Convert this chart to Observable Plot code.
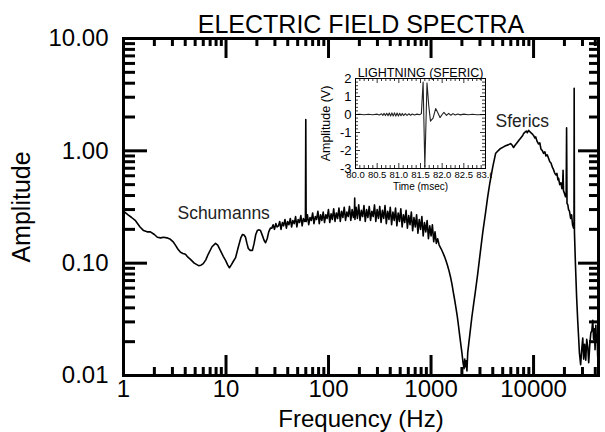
<!DOCTYPE html>
<html><head><meta charset="utf-8">
<script src="https://cdn.jsdelivr.net/npm/d3@7"></script>
<script src="https://cdn.jsdelivr.net/npm/@observablehq/plot@0.6"></script>
<style>
html,body{margin:0;padding:0;background:#fff;}
#wrap{position:relative;width:605px;height:432px;overflow:hidden;background:#fff;}
#inset{position:absolute;left:300px;top:58px;}
</style></head><body><div id="wrap"><div id="main"></div><div id="inset"></div></div>
<script>
const FONT = "'Liberation Sans', Arial, Helvetica, sans-serif";

// ---- main spectrum data: [frequency Hz, amplitude] ----
const schumannBand = [
  [1,0.29],[1.1,0.27],[1.2,0.255],[1.31,0.239],[1.45,0.21],[1.57,0.195],[1.7,0.19],[1.83,0.19],[2.0,0.18],[2.14,0.17],
  [2.3,0.168],[2.46,0.17],[2.65,0.168],[2.87,0.163],[3.05,0.155],[3.22,0.144],[3.4,0.133],[3.6,0.125],[3.8,0.122],[4.02,0.12],
  [4.25,0.113],[4.5,0.108],[4.9,0.1],[5.4,0.095],[5.7,0.096],[6.0,0.099],[6.35,0.107],[6.7,0.12],[7.3,0.14],[7.9,0.15],
  [8.3,0.145],[8.8,0.13],[9.4,0.115],[9.9,0.106],[10.4,0.096],[10.8,0.091],[11.3,0.097],[11.8,0.104],[12.4,0.112],[13.2,0.14],
  [14.0,0.17],[14.5,0.18],[15.0,0.178],[15.5,0.17],[16.0,0.15],[16.5,0.135],[17.2,0.13],[18.1,0.13],[18.8,0.15],[19.5,0.18],
  [20.2,0.195],[21.0,0.198],[21.7,0.195],[22.7,0.175],[23.5,0.16],[24.3,0.152],[25.2,0.165],[26.1,0.19],[27.1,0.205]
];
const humBand = [
  [28,0.205],[28.8,0.22],[29.7,0.2],[30.6,0.225],[31.5,0.21],[32.5,0.215],[33.4,0.235],[34.4,0.2],[35.5,0.23],[36.5,0.215],
  [37.6,0.245],[38.8,0.205],[39.9,0.235],[41.1,0.22],[42.4,0.25],[43.6,0.21],[44.9,0.24],[46.3,0.225],[47.7,0.26],[49.1,0.21],
  [50.6,0.245],[52.1,0.23],[53.7,0.265],[55.3,0.215],[56.9,0.25],[58.6,0.235],[59.5,0.24],[60,1.9],[60.5,0.235],[62.2,0.27],
  [64.1,0.22],[66,0.255],[68,0.24],[70,0.28],[72.1,0.225],[74.3,0.26],[76.5,0.245],[78.8,0.29],[81.2,0.225],[83.6,0.27],
  [86.1,0.24],[88.7,0.285],[91.4,0.23],[94.1,0.27],[96.9,0.25],[99.8,0.3],[102.8,0.23],[105.9,0.275],[109,0.245],[112.3,0.305],
  [115.7,0.235],[119.2,0.28],[122.7,0.25],[126.4,0.31],[130.2,0.235],[134.1,0.29],[138.1,0.255],[142.3,0.315],[146.5,0.24],[150.9,0.285],
  [155.5,0.26],[160.1,0.32],[164.9,0.24],[169.9,0.3],[175,0.255],[179,0.3],[180,0.38],[181,0.245],[185.7,0.315],[191.2,0.25],
  [197,0.33],[202.9,0.24],[209,0.295],[215.2,0.26],[221.7,0.325],[228.3,0.235],[235.2,0.3],[242.2,0.255],[249.5,0.32],[257,0.24],
  [264.7,0.29],[272.6,0.26],[280.8,0.33],[289.2,0.235],[297.9,0.3],[306.8,0.25],[316,0.32],[325.5,0.23],[335.3,0.295],[345.3,0.25],
  [355.7,0.325],[366.3,0.225],[377.3,0.29],[388.6,0.245],[400.3,0.315],[412.3,0.22],[424.7,0.285],[437.4,0.24],[450.5,0.31],[464,0.215],
  [478,0.28],[492.3,0.235],[507.1,0.305],[522.3,0.21],[538,0.27],[554.1,0.23],[570.7,0.295],[587.8,0.205],[605.5,0.265],[623.6,0.22],
  [642.3,0.285],[661.6,0.195],[681.4,0.255],[701.9,0.21],[722.9,0.27],[744.6,0.185],[767,0.245],[790,0.2],[813.7,0.26],[838.1,0.175],
  [863.2,0.23],[889.1,0.19],[915.8,0.24],[943.3,0.165],[971.6,0.215],[1000.7,0.175],[1030.7,0.22],[1061.6,0.155],[1093.5,0.19],[1126.3,0.15],
  [1160,0.165]
];
const dipBand = [
  [1200,0.145],[1250,0.135],[1300,0.125],[1350,0.115],[1400,0.105],[1450,0.095],[1500,0.085],[1550,0.075],[1600,0.065],[1650,0.055],
  [1700,0.047],[1750,0.04],[1800,0.034],[1850,0.028],[1900,0.023],[1950,0.019],[2000,0.016],[2050,0.013],[2100,0.0115],[2130,0.014],
  [2160,0.012],[2200,0.0135],[2240,0.011],[2280,0.016],[2330,0.019],[2400,0.024],[2500,0.033],[2600,0.043],[2700,0.055],[2850,0.08]
];
const sfericBand = [
  [3040,0.13],[3200,0.19],[3400,0.28],[3560,0.384],[3750,0.52],[4000,0.72],[4260,0.946],[4500,1.0],[4770,1.05],[5050,1.08],
  [5330,1.11],[5650,1.13],[5970,1.16],[6200,1.12],[6380,1.07],[6600,1.12],[6900,1.18],[7140,1.23],[7500,1.3],[7800,1.36],
  [7980,1.42],[8200,1.46],[8500,1.5],[8700,1.45],[8940,1.52],[9200,1.48],[9500,1.44],[9800,1.4],[10000,1.37],[10300,1.3],
  [10500,1.33],[10800,1.22],[11200,1.15],[11500,1.18],[11800,1.04],[12200,1.0],[12530,0.95],[12900,0.98],[13200,0.9],[13600,0.92],
  [14000,0.86],[14400,0.8],[14800,0.78],[15200,0.72],[15670,0.68],[16000,0.64],[16500,0.61],[16900,0.63],[17300,0.55],[17540,0.57],
  [18000,0.5],[18500,0.52],[18900,0.46],[19200,0.47],[19400,0.67],[19600,0.44],[20000,0.42],[20500,0.39],[20800,0.4],[21000,1.6],
  [21200,0.34],[21600,0.33],[21950,0.3],[22400,0.29],[23000,0.25],[23500,0.27],[24000,0.22],[24550,0.205],[24800,0.22],[24900,3.6],
  [25050,0.19],[25600,0.1],[26300,0.05],[27000,0.03],[27500,0.022],[28000,0.016],[28800,0.0125]
];
const tailBand = [
  [29500,0.017],[30200,0.0216],[30800,0.014],[31500,0.019],[32300,0.0137],[33000,0.021],[33800,0.018],[34500,0.013],[35400,0.019],[36200,0.024],
  [37000,0.025],[37800,0.031],[38500,0.021],[39200,0.026],[39800,0.017],[40500,0.028],[41000,0.02],[41600,0.023],[42200,0.015],[43000,0.012]
];
const spectrum = [...schumannBand, ...humBand, ...dipBand, ...sfericBand, ...tailBand].map(([f, a]) => ({f, a}));

const annotations = [
  {label: "Schumanns", f: 3.36, a: 0.28},
  {label: "Sferics", f: 4260, a: 1.82}
];

// ---- tick values ----
const xMajor = [1, 10, 100, 1000, 10000];
const yMajor = [0.01, 0.1, 1, 10];
const xMinor = [2,3,4,5,6,7,8,9,20,30,40,50,60,70,80,90,200,300,400,500,600,700,800,900,2000,3000,4000,5000,6000,7000,8000,9000,20000,30000,40000];
const yMinor = [0.02,0.03,0.04,0.05,0.06,0.07,0.08,0.09,0.2,0.3,0.4,0.5,0.6,0.7,0.8,0.9,2,3,4,5,6,7,8,9];

// ---- inset sferic waveform: [time msec, volts] ----
const sfericTime = [80.0,80.1,80.2,80.3,80.4,80.5,80.55,80.6,80.63,80.66,80.69,80.72,80.75,80.78,80.81,80.84,80.87,80.9,80.93,80.96,80.99,81.02,81.05,81.08,81.11,81.15,81.19,81.23,81.27,81.31,81.36,81.42,81.48,81.52,81.56,81.6,81.65,81.69,81.73,81.79,81.85,81.9,81.95,82.0,82.04,82.1,82.15,82.2,82.25,82.3,82.36,82.42,82.5,82.6,82.7,82.8,83.0];
const sfericVolts = [0,0.01,-0.01,0.01,-0.01,0.02,-0.03,0.04,-0.05,0.06,-0.06,0.07,-0.07,0.08,-0.08,0.09,-0.08,0.09,-0.09,0.08,-0.08,0.07,-0.07,0.06,-0.06,0.05,-0.05,0.04,-0.04,0.03,-0.03,0.02,-0.01,0.05,1.8,-2.9,1.75,0.5,-0.37,-0.2,0.33,0.1,-0.17,0.0,0.12,-0.05,0.06,-0.04,0.05,-0.03,0.03,-0.02,0.02,-0.01,0.01,-0.01,0];
const insetXTicks = [80.0, 80.5, 81.0, 81.5, 82.0, 82.5, 83.0];
const insetYTicks = [-3, -2, -1, 0, 1, 2];
const insetXMinor = [80.1,80.2,80.3,80.4,80.6,80.7,80.8,80.9,81.1,81.2,81.3,81.4,81.6,81.7,81.8,81.9,82.1,82.2,82.3,82.4,82.6,82.7,82.8,82.9];
const insetYMinor = [-2.8,-2.6,-2.4,-2.2,-1.8,-1.6,-1.4,-1.2,-0.8,-0.6,-0.4,-0.2,0.2,0.4,0.6,0.8,1.2,1.4,1.6,1.8];
const waveform = sfericTime.map((t, i) => ({t, v: sfericVolts[i]}));

// inward frame ticks: tickX / tickY spanning the frame, trimmed with insets
function frameTicks(ticks, side, len, fw, fh, sw) {
  const o = {stroke: "black", strokeWidth: sw};
  if (side === "bottom") return Plot.tickX(ticks, {x: d => d, insetTop: fh - len, ...o});
  if (side === "top") return Plot.tickX(ticks, {x: d => d, insetBottom: fh - len, ...o});
  if (side === "left") return Plot.tickY(ticks, {y: d => d, insetRight: fw - len, ...o});
  return Plot.tickY(ticks, {y: d => d, insetLeft: fw - len, ...o});
}

const M = {top: 38, left: 123, right: 7, bottom: 57, width: 605, height: 432};
const FW = M.width - M.left - M.right, FH = M.height - M.top - M.bottom;

const main = Plot.plot({
  width: M.width, height: M.height,
  marginTop: M.top, marginLeft: M.left, marginRight: M.right, marginBottom: M.bottom,
  style: {fontFamily: FONT, background: "white", color: "black"},
  x: {type: "log", domain: [1, 43000]},
  y: {type: "log", domain: [0.01, 10]},
  marks: [
    Plot.line(spectrum, {x: "f", y: "a", stroke: "black", strokeWidth: 1.6}),
    Plot.text(annotations, {x: "f", y: "a", text: "label", textAnchor: "start", fontSize: 17.5, fill: "#222"}),
    frameTicks(xMajor, "bottom", 20, FW, FH, 3),
    frameTicks(xMinor, "bottom", 8, FW, FH, 3),
    frameTicks(xMajor, "top", 20, FW, FH, 3),
    frameTicks(xMinor, "top", 8, FW, FH, 3),
    frameTicks(yMajor, "left", 24, FW, FH, 3),
    frameTicks(yMinor, "left", 12, FW, FH, 3),
    frameTicks(yMajor, "right", 20, FW, FH, 3),
    frameTicks(yMinor, "right", 9, FW, FH, 3),
    Plot.axisX({anchor: "bottom", ticks: xMajor, tickSize: 0, tickPadding: 4, tickFormat: d3.format("d"), fontSize: 24, label: null}),
    Plot.axisY({anchor: "left", ticks: yMajor, tickSize: 0, tickPadding: 15, tickFormat: d3.format(".2f"), fontSize: 24, label: null}),
    Plot.frame({stroke: "black", strokeWidth: 3}),
    Plot.text(["ELECTRIC FIELD SPECTRA"], {frameAnchor: "top", dy: -6, lineAnchor: "bottom", fontSize: 25}),
    Plot.text(["Frequency (Hz)"], {frameAnchor: "bottom", dy: 51, lineAnchor: "bottom", fontSize: 24}),
    Plot.text(["Amplitude"], {frameAnchor: "left", dx: -102, rotate: -90, textAnchor: "middle", fontSize: 25})
  ]
});
document.getElementById("main").appendChild(main);

const I = {top: 20, left: 55, right: 7, bottom: 25, width: 192, height: 135};
const IW = I.width - I.left - I.right, IH = I.height - I.top - I.bottom;
const inset = Plot.plot({
  width: I.width, height: I.height,
  marginTop: I.top, marginLeft: I.left, marginRight: I.right, marginBottom: I.bottom,
  style: {fontFamily: FONT, background: "transparent", color: "black"},
  x: {domain: [80, 83]},
  y: {domain: [-3, 2]},
  marks: [
    Plot.frame({fill: "white", stroke: null}),
    Plot.line(waveform, {x: "t", y: "v", stroke: "#222", strokeWidth: 1.1}),
    frameTicks(insetXMinor, "bottom", 3, IW, IH, 0.8),
    frameTicks(insetXMinor, "top", 3, IW, IH, 0.8),
    frameTicks(insetXTicks, "bottom", 5, IW, IH, 0.8),
    frameTicks(insetXTicks, "top", 5, IW, IH, 0.8),
    frameTicks(insetYMinor, "left", 3, IW, IH, 0.8),
    frameTicks(insetYMinor, "right", 3, IW, IH, 0.8),
    frameTicks(insetYTicks, "left", 5, IW, IH, 0.8),
    frameTicks(insetYTicks, "right", 5, IW, IH, 0.8),
    Plot.axisX({anchor: "bottom", ticks: insetXTicks, tickSize: 0, tickPadding: 3, tickFormat: d3.format(".1f"), fontSize: 9.5, label: null}),
    Plot.axisY({anchor: "left", ticks: insetYTicks, tickSize: 0, tickPadding: 4, tickFormat: d => String(d), fontSize: 13, label: null}),
    Plot.frame({stroke: "black", strokeWidth: 1}),
    Plot.text(["LIGHTNING (SFERIC)"], {frameAnchor: "top", dy: -2, lineAnchor: "bottom", fontSize: 12.5}),
    Plot.text(["Time (msec)"], {frameAnchor: "bottom", dy: 14, lineAnchor: "top", fontSize: 10}),
    Plot.text(["Amplitude (V)"], {frameAnchor: "left", dx: -30, rotate: -90, textAnchor: "middle", fontSize: 12.5})
  ]
});
document.getElementById("inset").appendChild(inset);
</script></body></html>
